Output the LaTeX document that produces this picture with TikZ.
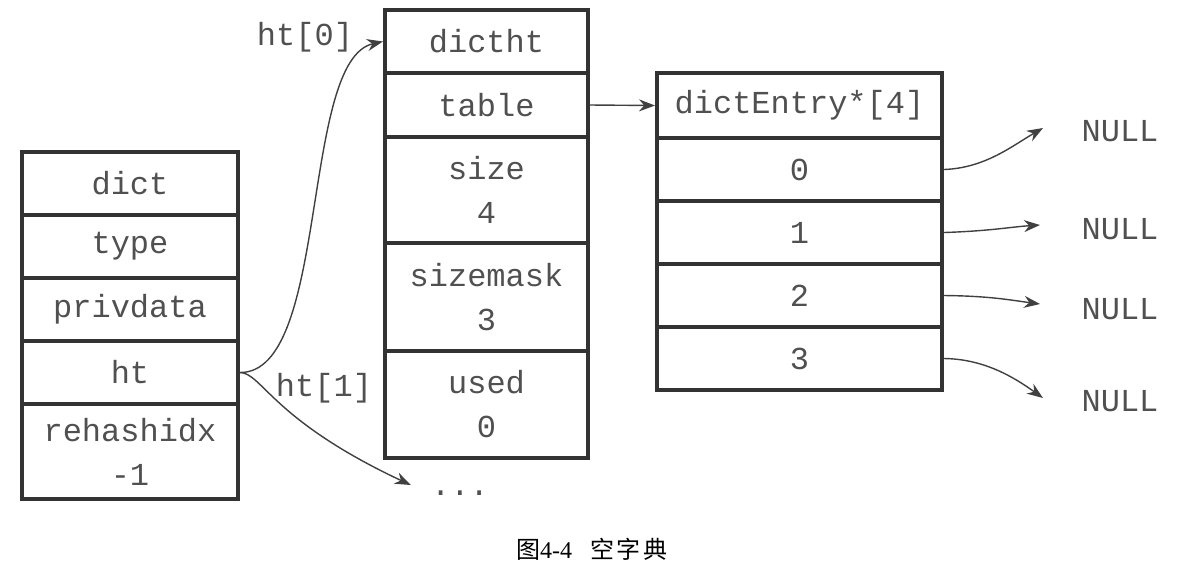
\documentclass[tikz,border=0pt]{standalone}
\usepackage{fontspec}
\setmainfont{Liberation Serif}
\setmonofont{Liberation Mono}
\newfontfamily\cjk{Noto Sans CJK SC}
\usetikzlibrary{arrows.meta}
\definecolor{txt}{HTML}{505050}
\definecolor{bord}{HTML}{333333}
\definecolor{arr}{HTML}{404040}
\tikzset{
  cell/.style={draw=bord, line width=2pt, text=txt, align=center, inner sep=0pt,
    font=\ttfamily\fontsize{16}{22}\selectfont},
  lcell/.style={cell, minimum width=108pt},
  mcell/.style={cell, minimum width=101.5pt},
  rcell/.style={cell, minimum width=142.5pt},
  lbl/.style={text=txt, inner sep=0pt, font=\ttfamily\fontsize{16}{22}\selectfont},
  link/.style={draw=arr, line width=0.7pt, -{Stealth[length=8pt,width=6pt]}}
}
\begin{document}
\begin{tikzpicture}[x=0.5pt,y=-0.5pt]
\useasboundingbox (0,0) rectangle (1188,570);
% dict
\node[lcell, minimum height=31.5pt] (dict) at (130,183.5) {dict};
\node[lcell, minimum height=31.5pt] (type) at (130,246.5) {type};
\node[lcell, minimum height=31.5pt] (priv) at (130,309.5) {privdata};
\node[lcell, minimum height=31.5pt] (ht) at (130,372.5) {ht};
\node[lcell, minimum height=47.5pt] (rehash) at (130,451.5) {rehashidx\\-1};
% dictht
\node[mcell, minimum height=31.5pt] (dictht) at (486.5,41.5) {dictht};
\node[mcell, minimum height=32pt] (table) at (486.5,105) {table};
\node[mcell, minimum height=53pt] (size) at (486.5,190) {size\\4};
\node[mcell, minimum height=54pt] (sizemask) at (486.5,297) {sizemask\\3};
\node[mcell, minimum height=53.5pt] (used) at (486.5,404.5) {used\\0};
% dictEntry
\node[rcell, minimum height=32.5pt] (de) at (799.5,105.5) {dictEntry*[4]};
\node[rcell, minimum height=31.5pt] (e0) at (799.5,169.5) {0};
\node[rcell, minimum height=31.5pt] (e1) at (799.5,232.5) {1};
\node[rcell, minimum height=31.5pt] (e2) at (799.5,295.5) {2};
\node[rcell, minimum height=31.5pt] (e3) at (799.5,358.5) {3};
% NULLs
\node[lbl] (n0) at (1120,131) {NULL};
\node[lbl] (n1) at (1120,229) {NULL};
\node[lbl] (n2) at (1120,309) {NULL};
\node[lbl] (n3) at (1120,401) {NULL};
\coordinate (t0) at (1043,128);
\coordinate (t1) at (1040,225);
\coordinate (t2) at (1040,304);
\coordinate (t3) at (1043,398);
% labels
\node[lbl] (l0) at (305,37) {ht[0]};
\node[lbl] (l1) at (324,388) {ht[1]};
\node[lbl] (dots) at (460,493) {...};
% arrows
\draw[link] (ht.east) .. controls (330,373) and (300,60) .. (dictht.west);
\draw[link] (ht.east) .. controls (262,373) and (272,420) .. ([xshift=-10pt,yshift=4pt]dots.west);
\draw[link] (table.east) -- (de.west);
\draw[link] (e0.east) .. controls (985,168) and (1012,146) .. (t0);
\draw[link] (e1.east) .. controls (990,231) and (1010,227) .. (t1);
\draw[link] (e2.east) .. controls (990,296) and (1010,300) .. (t2);
\draw[link] (e3.east) .. controls (985,359) and (1015,378) .. (t3);
% caption
\node[inner sep=0pt, font=\fontsize{12}{14}\selectfont] (cap) at (592,549)
  {{\cjk 图}4-4\hspace{9pt}{\cjk 空\hspace{1.5pt}字\hspace{1.5pt}典}};
\end{tikzpicture}
\end{document}
